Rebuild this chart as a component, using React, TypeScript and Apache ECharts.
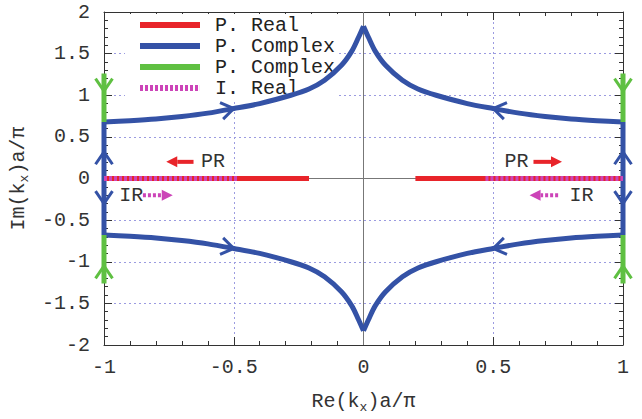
import React, { useEffect, useRef } from "react";
import * as echarts from "echarts";

// ---- data ----
const complexX = [-1, -0.9, -0.8, -0.7, -0.6, -0.5, -0.4, -0.28, -0.21, -0.15, -0.085, -0.045, -0.02, 0,
  0.02, 0.045, 0.085, 0.15, 0.21, 0.28, 0.4, 0.5, 0.6, 0.7, 0.8, 0.9, 1];
const complexUpper = [0.68, 0.695, 0.715, 0.745, 0.785, 0.84, 0.9, 1.0, 1.075, 1.18, 1.36, 1.53, 1.69, 1.83,
  1.69, 1.53, 1.36, 1.18, 1.075, 1.0, 0.9, 0.84, 0.785, 0.745, 0.715, 0.695, 0.68];
const complexLower = [-0.68, -0.695, -0.715, -0.745, -0.785, -0.84, -0.9, -1.0, -1.075, -1.18, -1.36, -1.53, -1.69, -1.83,
  -1.69, -1.53, -1.36, -1.18, -1.075, -1.0, -0.9, -0.84, -0.785, -0.745, -0.715, -0.695, -0.68];
const blueEdges = [[-1, -0.68, 0.68], [1, -0.68, 0.68]]; // x, y0, y1

const realSegments = [[-1, -0.21], [0.2, 1]];          // P. Real, on Im = 0
const imagRealSegments = [[-1, -0.48], [0.47, 1]];     // I. Real, on Im = 0
const greenSegments = [[-1, 0.68, 1.26], [-1, -0.68, -1.26], [1, 0.68, 1.26], [1, -0.68, -1.26]]; // x, y0, y1

// chevrons: x, y, dx, dy (direction of travel)
const blueChevrons = [
  [-0.5, 0.84, 1, 0.58], [0.5, 0.84, -1, 0.58],
  [-0.5, -0.84, 1, -0.58], [0.5, -0.84, -1, -0.58],
  [-1, 0.32, 0, 1], [-1, -0.3, 0, -1], [1, 0.32, 0, 1], [1, -0.3, 0, -1],
];
const greenChevrons = [
  [-1, 1.05, 0, -1], [-1, -1.05, 0, 1], [1, 1.05, 0, -1], [1, -1.05, 0, 1],
];
// annotation arrows: tail x, tail y, tip x, tip y
const prArrows = [[-0.655, 0.2, -0.76, 0.2], [0.655, 0.2, 0.765, 0.2]];
const irArrows = [[-0.85, -0.2, -0.735, -0.2], [0.75, -0.2, 0.64, -0.2]];
const annotationLabels = ["PR", "PR", "IR", "IR"];
const annotationPos = [[-0.58, 0.2], [0.59, 0.2], [-0.895, -0.21], [0.84, -0.21]];

const legendNames = ["P. Real", "P. Complex", "P. Complex ", "I. Real"];

const xTicks = { min: -1, max: 1, interval: 0.5 };
const yTicks = { min: -2, max: 2, interval: 0.5 };

const BLUE = "#3452a6";
const RED = "#e8242a";
const GREEN = "#5fc042";
const PINK = "#cc44b8";
const FONT = "Liberation Mono";
const TXT = "#333";

const SOLID_ICON = "path://M0,0h60v6h-60z";
const DOTTED_ICON =
  "path://" + Array.from({ length: 12 }, (_, i) => `M${i * 5},0h3v6h-3z`).join(" ") + " M59.9,0h0.1v6h-0.1z";

export default function App() {
  const ref = useRef<HTMLDivElement>(null);
  useEffect(() => {
    const chart = echarts.init(ref.current!, null, { renderer: "svg" });

    const pairs = (xs: number[], ys: number[]) => xs.map((x, i) => [x, ys[i]]);
    const cusp = complexX.indexOf(0);
    const halves = (ys: number[]) => {
      const all = pairs(complexX, ys);
      return [all.slice(0, cusp + 1), all.slice(cusp)];
    };

    const axisCommon = (isX: boolean, t: any, pos: string, main: boolean) => ({
      type: "value",
      min: t.min,
      max: t.max,
      interval: t.interval,
      position: pos,
      axisLine: { show: true, onZero: false, lineStyle: { color: "#333", width: 1 } },
      axisTick: { show: true, inside: true, length: 8, lineStyle: { color: "#333" } },
      minorTick: { show: true, splitNumber: 5, length: 4, lineStyle: { color: "#333" } },
      splitLine: main
        ? { show: true, lineStyle: { color: "#9b9be0", type: [2, 3], width: 1 } }
        : { show: false },
      axisLabel: main
        ? { show: true, fontFamily: FONT, fontSize: 20, color: TXT, margin: isX ? 12 : 14 }
        : { show: false },
    });

    const lineSeries = (name: string, data: any[], color: string, extra: any = {}, smooth = false) => ({
      type: "line",
      name,
      data,
      showSymbol: false,
      symbol: "none",
      silent: true,
      smooth: smooth ? 0.3 : false,
      z: 3,
      lineStyle: { color, width: 5, cap: "butt", join: "round", ...extra },
      itemStyle: { color },
    });

    const chevronSeries = (data: number[][], color: string) => ({
      type: "custom",
      data,
      z: 6,
      silent: true,
      clip: false,
      encode: { x: 0, y: 1 },
      renderItem: (params: any, api: any) => {
        const p = api.coord([api.value(0), api.value(1)]);
        const q = api.coord([api.value(0) + api.value(2) * 0.01, api.value(1) + api.value(3) * 0.01]);
        const ang = Math.atan2(q[1] - p[1], q[0] - p[0]);
        const L = 15, A = 0.6;
        const a1 = [p[0] - L * Math.cos(ang - A), p[1] - L * Math.sin(ang - A)];
        const a2 = [p[0] - L * Math.cos(ang + A), p[1] - L * Math.sin(ang + A)];
        return {
          type: "polyline",
          shape: { points: [a1, p, a2] },
          style: { stroke: color, lineWidth: 3, fill: null, lineJoin: "miter" },
        };
      },
    });

    const arrowSeries = (data: number[][], color: string, dashed: boolean) => ({
      type: "custom",
      data,
      z: 6,
      silent: true,
      clip: false,
      encode: { x: [0, 2], y: [1, 3] },
      renderItem: (params: any, api: any) => {
        const t = api.coord([api.value(0), api.value(1)]);
        const h = api.coord([api.value(2), api.value(3)]);
        const dir = Math.sign(h[0] - t[0]);
        const HL = 11, HW = 5.5;
        const base = h[0] - dir * HL;
        return {
          type: "group",
          children: [
            {
              type: "line",
              shape: { x1: t[0], y1: t[1], x2: base, y2: h[1] },
              style: { stroke: color, lineWidth: 4, lineDash: dashed ? [3, 2] : null },
            },
            {
              type: "polygon",
              shape: { points: [[h[0], h[1]], [base, h[1] - HW], [base, h[1] + HW]] },
              style: { fill: color },
            },
          ],
        };
      },
    });

    const series: any[] = [
      lineSeries("", [[0, yTicks.min], [0, yTicks.max]], "#777", { width: 1 }),
      lineSeries("", [[xTicks.min, 0], [xTicks.max, 0]], "#777", { width: 1 }),
      ...realSegments.map((s) => lineSeries(legendNames[0], [[s[0], 0], [s[1], 0]], RED)),
      ...halves(complexUpper).map((d) => lineSeries(legendNames[1], d, BLUE, {}, true)),
      ...halves(complexLower).map((d) => lineSeries(legendNames[1], d, BLUE, {}, true)),
      ...blueEdges.map((s) => lineSeries(legendNames[1], [[s[0], s[1]], [s[0], s[2]]], BLUE)),
      ...greenSegments.map((s) => lineSeries(legendNames[2], [[s[0], s[1]], [s[0], s[2]]], GREEN)),
      ...imagRealSegments.map((s) => ({
        ...lineSeries(legendNames[3], [[s[0], 0], [s[1], 0]], PINK, { type: [3, 2] }),
        z: 4,
      })),
      chevronSeries(blueChevrons, BLUE),
      chevronSeries(greenChevrons, GREEN),
      arrowSeries(prArrows, RED, false),
      arrowSeries(irArrows, PINK, true),
      {
        type: "custom",
        data: annotationPos,
        z: 6,
        silent: true,
        encode: { x: 0, y: 1 },
        renderItem: (params: any, api: any) => {
          const p = api.coord([api.value(0), api.value(1)]);
          return {
            type: "text",
            x: p[0],
            y: p[1],
            style: {
              text: annotationLabels[params.dataIndex],
              fontFamily: FONT,
              fontSize: 20,
              fill: TXT,
              align: "center",
              verticalAlign: "middle",
            },
          };
        },
      },
    ];

    const nameRich = {
      sub: { fontFamily: FONT, fontSize: 13, color: TXT, padding: [12, 0, 0, 0] },
    };

    chart.setOption({
      animation: false,
      backgroundColor: "#fff",
      grid: { left: 104, right: 19, top: 12, bottom: 67, show: false },
      legend: {
        data: legendNames.map((n, i) => ({ name: n, icon: i === 3 ? DOTTED_ICON : SOLID_ICON })),
        orient: "vertical",
        left: 125,
        top: 14,
        z: 1,
        padding: [1, 4, 3, 15],
        itemGap: 1,
        itemWidth: 60,
        itemHeight: 6,
        backgroundColor: "#fff",
        selectedMode: false,
        formatter: (n: string) => n.trim(),
        textStyle: { fontFamily: FONT, fontSize: 20, color: "#222", lineHeight: 20, padding: [0, 0, 0, 10] },
      },
      xAxis: [
        {
          ...axisCommon(true, xTicks, "bottom", true),
          name: "Re(k{sub|x})a/π",
          nameLocation: "middle",
          nameGap: 44,
          nameTextStyle: { fontFamily: FONT, fontSize: 20, color: TXT, rich: nameRich },
        },
        axisCommon(true, xTicks, "top", false),
      ],
      yAxis: [
        {
          ...axisCommon(false, yTicks, "left", true),
          name: "Im(k{sub|x})a/π",
          nameLocation: "middle",
          nameGap: 68,
          nameTextStyle: { fontFamily: FONT, fontSize: 20, color: TXT, rich: nameRich },
        },
        axisCommon(false, yTicks, "right", false),
      ],
      series,
    });
    return () => chart.dispose();
  }, []);
  return <div ref={ref} style={{ width: 642, height: 419, position: "absolute", left: 0, top: 0 }} />;
}
